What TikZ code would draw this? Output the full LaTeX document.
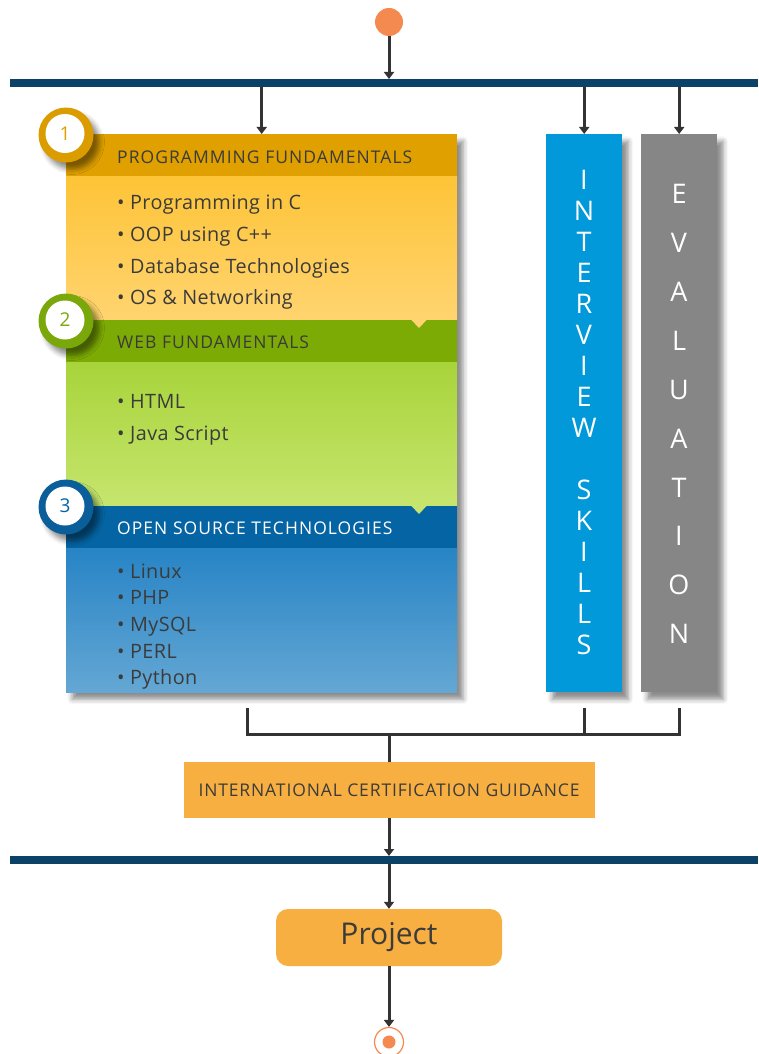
\documentclass[tikz,border=0pt]{standalone}
\usepackage{fontspec}
\setmainfont{Open Sans}
\newfontfamily\hdrfont[LetterSpace=6]{Open Sans}
\newfontfamily\certfont[LetterSpace=5]{Open Sans}
\newfontfamily\itemfont[LetterSpace=2]{Open Sans}
\usetikzlibrary{shadows.blur,arrows.meta}
\definecolor{barC}{HTML}{0C4168}
\definecolor{lineC}{HTML}{333333}
\definecolor{txtC}{HTML}{3B3B3B}
\definecolor{orangeC}{HTML}{F58A50}
\definecolor{goldH}{HTML}{DFA000}
\definecolor{goldT}{HTML}{FEC437}
\definecolor{goldB}{HTML}{FFD470}
\definecolor{greenH}{HTML}{7DAB05}
\definecolor{greenT}{HTML}{A8D43A}
\definecolor{greenB}{HTML}{C6E56E}
\definecolor{blueH}{HTML}{0564A3}
\definecolor{blueT}{HTML}{2784C5}
\definecolor{blueB}{HTML}{64A7D4}
\definecolor{interC}{HTML}{0199D9}
\definecolor{evalC}{HTML}{858685}
\definecolor{certC}{HTML}{F8AF41}
\definecolor{ring1}{HTML}{DB9C00}
\definecolor{ring2}{HTML}{7AA80A}
\definecolor{ring3}{HTML}{0A5F9B}
\begin{document}
\begin{tikzpicture}[x=1pt,y=-1pt,
  conn/.style={draw=lineC, line width=3pt},
  arr/.style={conn, -{Triangle[length=7pt,width=10pt]}},
  shd/.style={blur shadow={shadow xshift=6pt, shadow yshift=-7pt, shadow blur radius=5pt, shadow opacity=45}},
  barbox/.style={fill=barC, minimum width=748, minimum height=8, inner sep=0, anchor=north west},
  band/.style={minimum width=391, inner sep=0, anchor=north west},
  hdr/.style={font=\hdrfont\fontsize{17.5}{20}\selectfont, text=txtC, anchor=base west, inner sep=0},
  item/.style={font=\itemfont\fontsize{19.8}{22}\selectfont, text=txtC, anchor=base west, inner sep=0},
  vlet/.style={font=\fontsize{27}{30}\selectfont, text=white, inner sep=0},
  ring/.style={circle, minimum size=55, inner sep=0, shd},
  disc/.style={circle, fill=white, minimum size=39, inner sep=0, font=\fontsize{19}{22}\selectfont},
  orbox/.style={fill=certC, inner sep=0}
]
\useasboundingbox (0,0) rectangle (758,1054);

% start / bars
\node[circle, fill=orangeC, minimum size=28, inner sep=0] (start) at (389,22) {};
\node[barbox] (bar1) at (10,79) {};
\node[barbox] (bar2) at (10,856) {};

% left column
\node[band, minimum height=558, fill=goldT, shd] (lbox) at (66,134) {};
\node[band, minimum height=42, fill=goldH] (h1) at (66,134) {};
\node[band, minimum height=144, top color=goldT, bottom color=goldB] (b1) at (66,176) {};
\node[band, minimum height=42, fill=greenH] (h2) at (66,320) {};
\node[band, minimum height=144, top color=greenT, bottom color=greenB] (b2) at (66,362) {};
\node[band, minimum height=42, fill=blueH] (h3) at (66,506) {};
\node[band, minimum height=144, top color=blueT, bottom color=blueB] (b3) at (66,548) {};
\fill[goldB] (411,319.5) -- (427,319.5) -- (419,328) -- cycle;
\fill[greenB] (411,505.5) -- (427,505.5) -- (419,514) -- cycle;

\node[hdr] (t1) at (117,163) {PROGRAMMING FUNDAMENTALS};
\node[item] (i11) at (117,209) {• Programming in C};
\node[item] (i12) at (117,241) {• OOP using C++};
\node[item] (i13) at (117,273) {• Database Technologies};
\node[item] (i14) at (117,304) {• OS \& Networking};
\node[hdr] (t2) at (117,348) {WEB FUNDAMENTALS};
\node[item] (i21) at (117,408) {• HTML};
\node[item] (i22) at (117,440) {• Java Script};
\node[hdr, text=white] (t3) at (117,534) {OPEN SOURCE TECHNOLOGIES};
\node[item] (i31) at (117,578) {• Linux};
\node[item] (i32) at (117,604) {• PHP};
\node[item] (i33) at (117,631) {• MySQL};
\node[item] (i34) at (117,658) {• PERL};
\node[item] (i35) at (117,684) {• Python};

% number circles
\node[ring, fill=ring1] (c1) at (66,135) {};
\node[disc, text=goldH] (n1) at (65,133.5) {1};
\node[ring, fill=ring2] (c2) at (66,321) {};
\node[disc, text=ring2] (n2) at (65,320) {2};
\node[ring, fill=ring3] (c3) at (66,507) {};
\node[disc, text=blueH] (n3) at (65,506) {3};

% right columns
\node[fill=interC, minimum width=76, minimum height=558, inner sep=0, anchor=north west, shd] (ibox) at (546,134) {};
\node[fill=evalC, minimum width=76, minimum height=558, inner sep=0, anchor=north west, shd] (ebox) at (641,134) {};
\foreach \l [count=\k from 0] in {I,N,T,E,R,V,I,E,W,,S,K,I,L,L,S}
  \node[vlet] (iv\k) at (584,{180+31*\k}) {\l};
\foreach \l [count=\k from 0] in {E,V,A,L,U,A,T,I,O,N}
  \node[vlet] (ev\k) at (679,{194+48.9*\k}) {\l};

% connectors top
\draw[arr] (start) -- (start |- bar1.north);
\draw[arr] (bar1.south -| lbox.north) -- (lbox.north);
\draw[arr] (bar1.south -| ibox.north) -- (ibox.north);
\draw[arr] (bar1.south -| ebox.north) -- (ebox.north);

% merge lines
\coordinate (lb) at (247,708);
\coordinate (ib) at (584,708);
\coordinate (eb) at (679,708);
\coordinate (j) at (389,734);
\draw[conn] (lb) -- (lb |- j) -- (eb |- j) -- (eb);
\draw[conn] (ib) -- (ib |- j);

\node[orbox, minimum width=411, minimum height=56, font=\certfont\fontsize{17.5}{20}\selectfont, text=txtC] (cert) at (389,790) {INTERNATIONAL CERTIFICATION GUIDANCE};
\draw[conn] (j) -- (cert.north);
\draw[arr] (cert.south) -- (cert.south |- bar2.north);

\node[orbox, rounded corners=12, minimum width=226, minimum height=57, font=\fontsize{30}{34}\selectfont, text=txtC] (proj) at (389,937.5) {Project};
\draw[arr] (bar2.south -| proj.north) -- (proj.north);

\node[circle, draw=orangeC, line width=1.2pt, fill=white, minimum size=29, inner sep=0] (end) at (389,1042) {};
\node[circle, fill=orangeC, minimum size=13, inner sep=0] (endin) at (end) {};
\draw[arr] (proj.south) -- (end.north);
\end{tikzpicture}
\end{document}
